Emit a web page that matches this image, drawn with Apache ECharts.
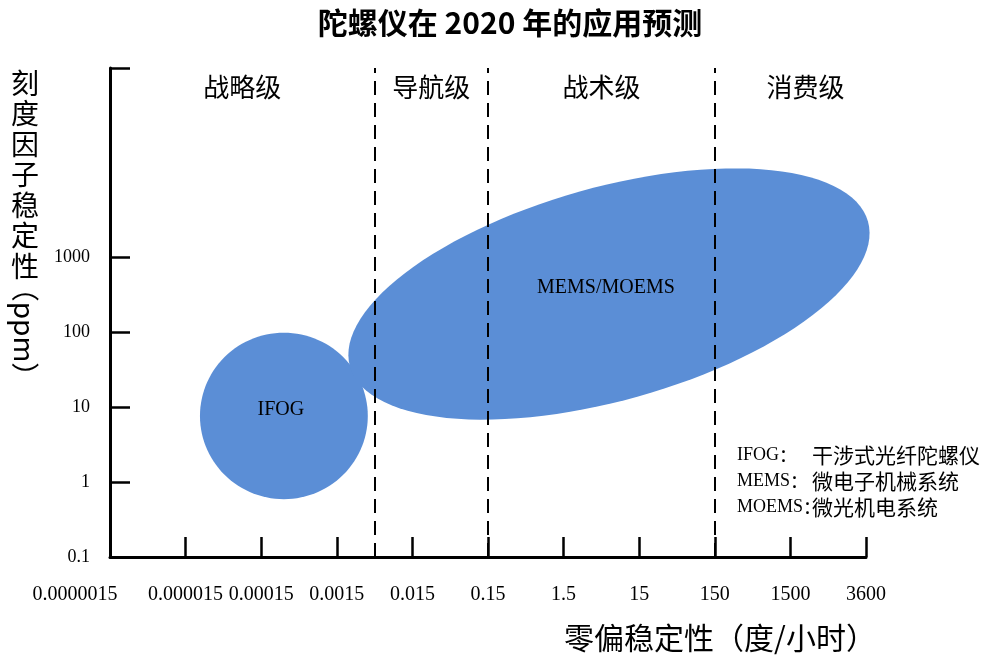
<!DOCTYPE html>
<html>
<head>
<meta charset="utf-8">
<title>陀螺仪在 2020 年的应用预测</title>
<script src="https://cdn.jsdelivr.net/npm/echarts@6/dist/echarts.min.js"></script>
<style>
  html, body { margin: 0; padding: 0; background: #fff; }
  #chart { width: 985px; height: 658px; }
</style>
</head>
<body>
<div id="chart"></div>
<script>
(function() {

  // 零偏稳定性 (度/小时) 刻度, 等距排列
  var xLabels = ['0.0000015', '0.000015', '0.00015', '0.0015', '0.015', '0.15', '1.5', '15', '150', '1500', '3600'];
  // 刻度因子稳定性 (ppm), 对数刻度, 值为 log10
  var yLabels = ['0.1', '1', '10', '100', '1000'];
  var yTickLogs = [-1, 0, 1, 2, 3];
  var yTopLog = 5.52;

  // 等级分界 (x 轴刻度序号)
  var gradeBounds = [3.5, 5, 8];
  var gradeNames = ['战略级', '导航级', '战术级', '消费级'];
  var gradeLabelAt = [1.75, 4.25, 6.5, 9.2];

  // 椭圆区域: 中心 x (刻度序号), 中心 ppm, 半轴 (刻度单位), 倾角 (度)
  var shapeNames = ['IFOG', 'MEMS/MOEMS'];
  var shapeCenterX = [2.3, 6.6];
  var shapeCenterPpm = [7.6, 321];
  var shapeSemiA = [1.11, 3.56];
  var shapeSemiB = [1.11, 1.42];
  var shapeTilt = [0, 15.8];

  var noteKeys = ['IFOG', 'MEMS', 'MOEMS'];
  var noteTexts = ['干涉式光纤陀螺仪', '微电子机械系统', '微光机电系统'];

  var cjk = '"Noto Sans CJK SC", sans-serif';
  var serif = '"Liberation Serif", "Times New Roman", serif';

  var shapeData = shapeNames.map(function(n, i) {
    return [shapeCenterX[i], Math.log10(shapeCenterPpm[i]), shapeSemiA[i], shapeSemiB[i], shapeTilt[i]];
  });

  var gradeData = gradeNames.map(function(n, i) {
    return { name: n, value: [gradeLabelAt[i], 5.27] };
  });

  var noteGraphics = [];
  noteKeys.forEach(function(k, i) {
    noteGraphics.push({
      type: 'text', x: 737, y: 455 + i * 26,
      style: {
        text: '{k|' + k + '}{c|：}',
        fill: '#000', align: 'left', verticalAlign: 'middle',
        rich: {
          k: { fontFamily: serif, fontSize: 18, color: '#000' },
          c: { fontFamily: cjk, fontSize: 18, color: '#000' }
        }
      }
    });
    noteGraphics.push({
      type: 'text', x: 812, y: 455 + i * 26,
      style: { text: noteTexts[i], font: '21px ' + cjk, fill: '#000', align: 'left', verticalAlign: 'middle' }
    });
  });

  var chart = echarts.init(document.getElementById('chart'));

  chart.setOption({
    backgroundColor: '#fff',
    animation: false,
    title: {
      text: '陀螺仪在 2020 年的应用预测',
      left: 505,
      textAlign: 'center',
      top: 3,
      textStyle: { fontFamily: cjk, fontSize: 30, fontWeight: 'bold', color: '#000' }
    },
    grid: { left: 110, right: 119, top: 68, bottom: 101 },
    xAxis: {
      type: 'value',
      min: 0,
      max: 10,
      interval: 1,
      splitLine: { show: false },
      axisLine: { onZero: false, lineStyle: { color: '#000', width: 3 } },
      axisTick: { inside: true, length: 20, lineStyle: { color: '#000', width: 2.5 } },
      axisLabel: {
        margin: 28,
        color: '#000',
        fontFamily: serif,
        fontSize: 20,
        showMinLabel: true,
        showMaxLabel: true,
        formatter: function(v) {
          var s = xLabels[Math.round(v)];
          return v === 0 ? '{first|' + s + '}' : s;
        },
        rich: {
          first: { fontFamily: serif, fontSize: 20, color: '#000', padding: [0, 70, 0, 0] }
        }
      }
    },
    yAxis: {
      type: 'value',
      min: -1,
      max: yTopLog,
      splitLine: { show: false },
      axisLine: { onZero: false, lineStyle: { color: '#000', width: 3 } },
      axisTick: {
        inside: true,
        length: 20,
        customValues: yTickLogs.concat([yTopLog]),
        lineStyle: { color: '#000', width: 2.5 }
      },
      axisLabel: {
        margin: 20,
        color: '#000',
        fontFamily: serif,
        fontSize: 18,
        customValues: yTickLogs,
        formatter: function(v) {
          return yLabels[Math.round(v) + 1];
        }
      }
    },
    graphic: [
      {
        type: 'text',
        x: 25,
        y: 68,
        style: {
          text: '刻\n度\n因\n子\n稳\n定\n性',
          font: '28px ' + cjk,
          lineHeight: 30.5,
          fill: '#000',
          align: 'center',
          verticalAlign: 'top'
        }
      },
      {
        type: 'text',
        x: 25,
        y: 332,
        rotation: -Math.PI / 2,
        style: {
          text: '（ppm）',
          font: '28px ' + cjk,
          fill: '#000',
          align: 'center',
          verticalAlign: 'middle'
        }
      },
      {
        type: 'text',
        x: 720,
        y: 638,
        style: {
          text: '零偏稳定性（度/小时）',
          font: '30px ' + cjk,
          fill: '#000',
          align: 'center',
          verticalAlign: 'middle'
        }
      }
    ].concat(noteGraphics),
    series: [
      {
        type: 'custom',
        z: 1,
        data: shapeData,
        encode: { x: 0, y: 1 },
        renderItem: function(params, api) {
          var cx = api.value(0), cy = api.value(1);
          var a = api.value(2), b = api.value(3);
          var t = api.value(4) * Math.PI / 180;
          var pts = [];
          for (var i = 0; i < 120; i++) {
            var s = i / 120 * Math.PI * 2;
            var dx = a * Math.cos(s), dy = b * Math.sin(s);
            pts.push(api.coord([cx + dx * Math.cos(t) - dy * Math.sin(t), cy + dx * Math.sin(t) + dy * Math.cos(t)]));
          }
          var c = api.coord([cx, cy]);
          return {
            type: 'group',
            children: [
              { type: 'polygon', shape: { points: pts }, style: { fill: '#5b8ed6' } },
              {
                type: 'text',
                x: c[0] - 3,
                y: c[1] - 6,
                style: {
                  text: shapeNames[params.dataIndex],
                  font: '20px ' + serif,
                  fill: '#000',
                  align: 'center',
                  verticalAlign: 'middle'
                }
              }
            ]
          };
        }
      },
      {
        type: 'scatter',
        z: 5,
        symbolSize: 0,
        itemStyle: { opacity: 1 },
        data: gradeData,
        label: {
          show: true,
          position: 'inside',
          formatter: '{b}',
          color: '#000',
          fontFamily: cjk,
          fontSize: 26
        },
        markLine: {
          silent: true,
          symbol: 'none',
          label: { show: false },
          lineStyle: { color: '#000', width: 2, type: [14, 8] },
          data: gradeBounds.map(function(v) { return { xAxis: v }; })
        }
      }
    ]
  });

  window.addEventListener('resize', function() {
    chart.resize();
  });

})();
</script>
</body>
</html>
